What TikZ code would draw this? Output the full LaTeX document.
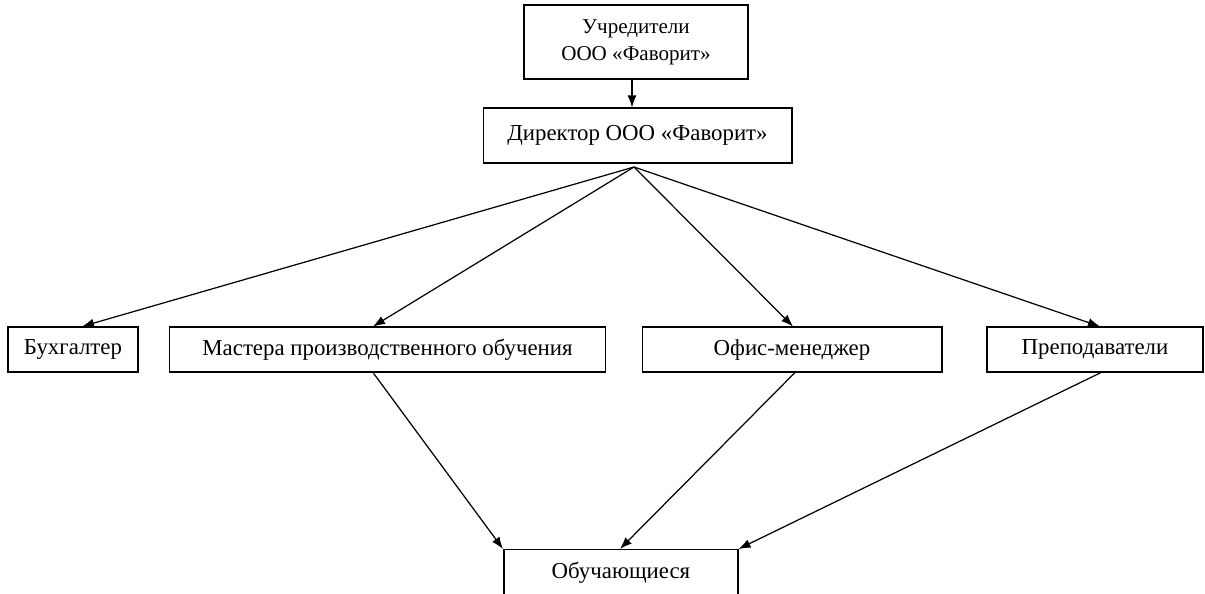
\documentclass[tikz,border=0pt]{standalone}
\usepackage{fontspec}
\setmainfont{Liberation Serif}
\usetikzlibrary{arrows.meta}
\begin{document}
\begin{tikzpicture}[x=0.02cm,y=-0.02cm,
  box/.style={draw, line width=0.6pt, inner sep=0pt, align=center, font=\fontsize{13}{15.3}\selectfont},
  arr/.style={-{Latex[length=2.4mm,width=1.8mm]}, line width=0.7pt}]
\useasboundingbox (0,0) rectangle (1205,593);
\node[box, font=\fontsize{12}{15.3}\selectfont, minimum width=4.48cm, minimum height=1.48cm] (top) at (636,42) {Учредители\\ООО «Фаворит»};
\node[box, minimum width=6.18cm, minimum height=1.10cm] (dir) at (637.5,135.5) {Директор ООО «Фаворит»};
\node[box, minimum width=2.60cm, minimum height=0.90cm] (buh) at (73,349.5) {Бухгалтер};
\node[box, minimum width=8.74cm, minimum height=0.90cm] (mast) at (387.5,349.5) {Мастера производственного обучения};
\node[box, minimum width=6.00cm, minimum height=0.90cm] (ofis) at (792,349.5) {Офис-менеджер};
\node[box, minimum width=4.32cm, minimum height=0.90cm] (prep) at (1095,349.5) {Преподаватели};
\node[box, minimum width=4.68cm, minimum height=0.94cm] (obuch) at (621,573) {Обучающиеся};
\coordinate (fan) at (634,167);
\draw[arr] (top.south -| 632,0) -- (dir.north -| 632,0);
\draw[arr] (fan) -- (buh.north -| 82,0);
\draw[arr] (fan) -- (mast.north -| 373,0);
\draw[arr] (fan) -- (ofis.north -| 793,0);
\draw[arr] (fan) -- (prep.north -| 1100,0);
\draw[arr] (mast.south -| 373,0) -- (obuch.north -| 503,0);
\draw[arr] (ofis.south -| 795,0) -- (obuch.north -| 620,0);
\draw[arr] (prep.south -| 1101,0) -- (obuch.north east);
\end{tikzpicture}
\end{document}
